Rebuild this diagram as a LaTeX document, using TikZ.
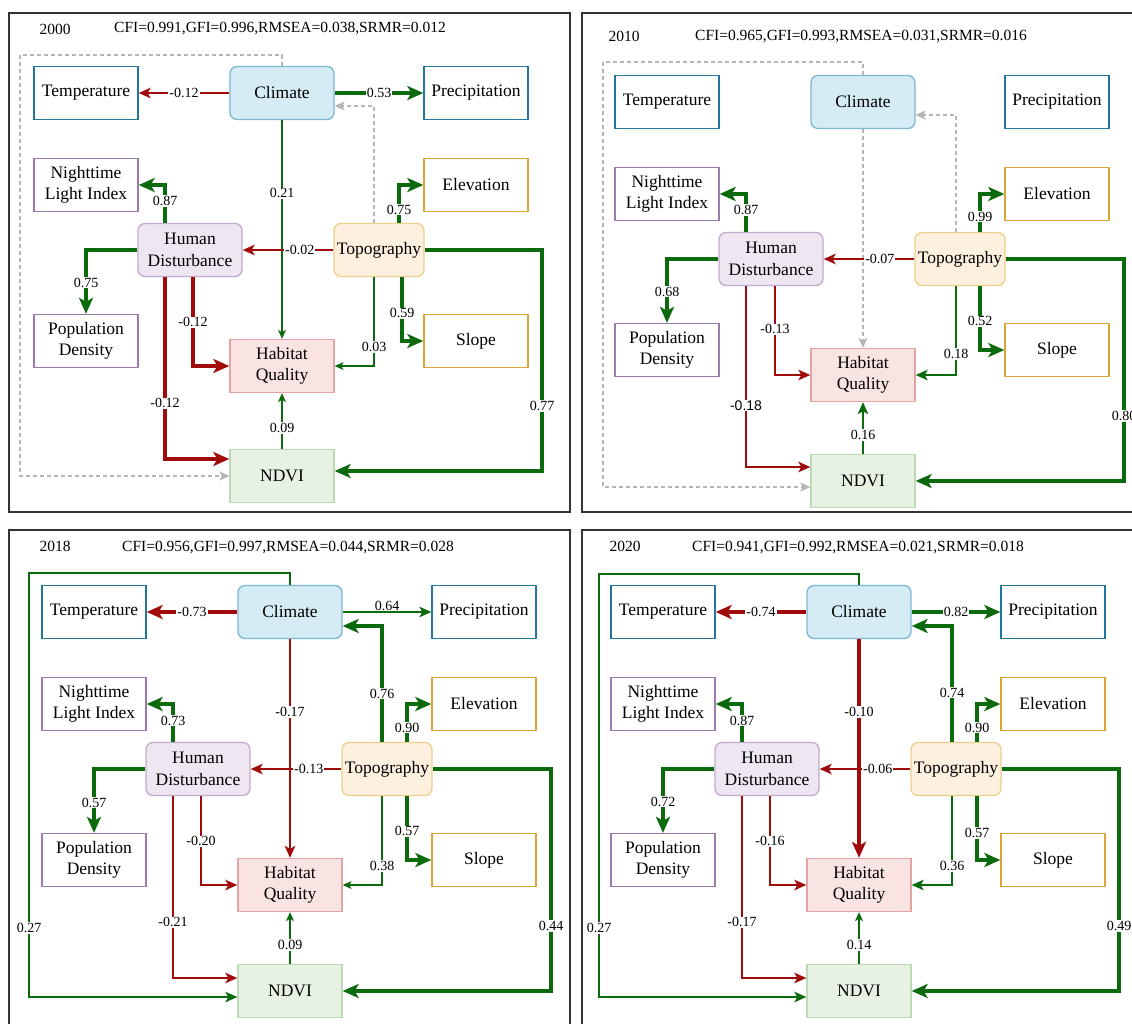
\documentclass[tikz,border=0pt]{standalone}
\usepackage{fontspec}
\setmainfont{Liberation Serif}
\setsansfont{Liberation Sans}
\usetikzlibrary{arrows.meta}

\definecolor{redln}{HTML}{A00C0C}
\definecolor{grnln}{HTML}{0B6A0B}
\definecolor{dashln}{HTML}{B5B5B5}
\definecolor{blueln}{HTML}{23779F}
\definecolor{purpln}{HTML}{9C7AAE}
\definecolor{goldln}{HTML}{DCA537}
\definecolor{climfl}{HTML}{D5ECF5}
\definecolor{climbd}{HTML}{7DB6D0}
\definecolor{humfl}{HTML}{EEE7F1}
\definecolor{humbd}{HTML}{C2AACD}
\definecolor{topofl}{HTML}{FEF0DF}
\definecolor{topobd}{HTML}{EDCF8C}
\definecolor{hqfl}{HTML}{FAE3E3}
\definecolor{hqbd}{HTML}{E6A3A3}
\definecolor{ndvifl}{HTML}{E7F2E5}
\definecolor{ndvibd}{HTML}{BADBB3}
\definecolor{frameln}{HTML}{333333}

\begin{document}
\begin{tikzpicture}[x=1pt, y=-1pt,
  box/.style={draw, fill=white, line width=1.3pt, minimum width=104pt, minimum height=53pt,
    inner sep=1.5pt, align=center, font=\fontsize{17.5}{21.5}\selectfont},
  tbox/.style={box, draw=blueln},
  hbox/.style={box, draw=purpln},
  gbox/.style={box, draw=goldln},
  climv/.style={box, rounded corners=7pt, draw=climbd, fill=climfl},
  humv/.style={box, rounded corners=7pt, draw=humbd, fill=humfl},
  topov/.style={box, rounded corners=7pt, draw=topobd, fill=topofl, minimum width=90pt},
  hqv/.style={box, draw=hqbd, fill=hqfl},
  ndviv/.style={box, draw=ndvibd, fill=ndvifl},
  lbl/.style={fill=white, inner sep=1pt, font=\fontsize{14}{16}\selectfont},
  ttl/.style={font=\fontsize{15.5}{18}\selectfont},
  gthin/.style={draw=grnln, line width=1.3pt, -{Stealth[length=9pt,width=8pt,inset=2.5pt]}},
  gmid/.style={draw=grnln, line width=2.1pt, -{Stealth[length=12pt,width=10.5pt,inset=3pt]}},
  gthick/.style={draw=grnln, line width=3.2pt, -{Stealth[length=16pt,width=14pt,inset=4pt]}},
  rmid/.style={draw=redln, line width=2.1pt, -{Stealth[length=12pt,width=10.5pt,inset=3pt]}},
  rthick/.style={draw=redln, line width=3.2pt, -{Stealth[length=16pt,width=14pt,inset=4pt]}},
  dsh/.style={draw=dashln, line width=1.2pt, dash pattern=on 4pt off 3pt,
    -{Stealth[length=10pt,width=9pt,inset=2.5pt]}},
  frame/.style={draw=frameln, line width=1.4pt}
]
\clip (0,0) rectangle (1132,1023);

% panel frames and titles
\draw[frame] (9,13) rectangle (570,512);
\draw[frame] (582,13) rectangle (1145,512);
\draw[frame] (9,530) rectangle (570,1035);
\draw[frame] (582,530) rectangle (1145,1035);
\node[ttl] (yr1) at (55,29) {2000};
\node[ttl] (fit1) at (280,29) {CFI=0.991,GFI=0.996,RMSEA=0.038,SRMR=0.012};
\node[ttl] (yr2) at (624,36) {2010};
\node[ttl] (fit2) at (861,37) {CFI=0.965,GFI=0.993,RMSEA=0.031,SRMR=0.016};
\node[ttl] (yr3) at (55,546) {2018};
\node[ttl] (fit3) at (288,548) {CFI=0.956,GFI=0.997,RMSEA=0.044,SRMR=0.028};
\node[ttl] (yr4) at (625,546) {2020};
\node[ttl] (fit4) at (858,548) {CFI=0.941,GFI=0.992,RMSEA=0.021,SRMR=0.018};

% 2000
\begin{scope}
\node[tbox] (temp1) at (86,93) {Temperature};
\node[climv] (clim1) at (282,93) {Climate};
\node[tbox] (prec1) at (476,93) {Precipitation};
\node[hbox] (ntl1) at (86,185) {Nighttime\\Light Index};
\node[gbox] (elev1) at (476,185) {Elevation};
\node[humv] (hum1) at (190,250) {Human\\Disturbance};
\node[topov] (topo1) at (379,250) {Topography};
\node[hbox] (pop1) at (86,341) {Population\\Density};
\node[gbox] (slope1) at (476,341) {Slope};
\node[hqv] (hq1) at (282,366) {Habitat\\Quality};
\node[ndviv] (ndvi1) at (282,476) {NDVI};

\draw[dsh] (clim1.north) |- (20,55) |- (ndvi1.west);
\draw[dsh] ([xshift=-5pt]topo1.north) |- ([yshift=-13pt]clim1.east);
\draw[rmid] (clim1.west) -- (temp1.east) node[lbl, midway] {-0.12};
\draw[gthick] (clim1.east) -- (prec1.west) node[lbl, midway] {0.53};
\draw[gthin] (clim1.south) -- (hq1.north) node[lbl, pos=0.335] {0.21};
\draw[gthick] ([xshift=-25pt]hum1.north) |- (ntl1.east) node[lbl, pos=0.29] {0.87};
\draw[gthick] (hum1.west) -| (pop1.north) node[lbl, pos=0.756] {0.75};
\draw[rmid] (topo1.west) -- (hum1.east) node[lbl, pos=0.37] {-0.02};
\draw[gthick] ([xshift=20pt]topo1.north) |- (elev1.west) node[lbl, pos=0.175] {0.75};
\draw[gthick] ([xshift=23pt]topo1.south) |- (slope1.west) node[lbl, pos=0.283] {0.59};
\draw[gthin] ([xshift=-5pt]topo1.south) |- (hq1.east) node[lbl, pos=0.394] {0.03};
\draw[gthick] (topo1.east) -| (542,406) node[lbl] {0.77} |- ([yshift=5pt]ndvi1.east);
\draw[rthick] ([xshift=3pt]hum1.south) |- (hq1.west) node[lbl, pos=0.254] {-0.12};
\draw[rthick] ([xshift=-25pt]hum1.south) |- ([yshift=17pt]ndvi1.west) node[lbl, pos=0.347] {-0.12};
\draw[gthin] (ndvi1.north) -- (hq1.south) node[lbl, pos=0.377] {0.09};
\end{scope}

% 2010
\begin{scope}[shift={(581,9)}]
\node[tbox] (temp2) at (86,93) {Temperature};
\node[climv] (clim2) at (282,93) {Climate};
\node[tbox] (prec2) at (476,93) {Precipitation};
\node[hbox] (ntl2) at (86,185) {Nighttime\\Light Index};
\node[gbox] (elev2) at (476,185) {Elevation};
\node[humv] (hum2) at (190,250) {Human\\Disturbance};
\node[topov] (topo2) at (379,250) {Topography};
\node[hbox] (pop2) at (86,341) {Population\\Density};
\node[gbox] (slope2) at (476,341) {Slope};
\node[hqv] (hq2) at (282,366) {Habitat\\Quality};
\node[ndviv] (ndvi2) at (282,472) {NDVI};

\draw[dsh] (clim2.north) |- (22,53) |- ([yshift=-6pt]ndvi2.west);
\draw[dsh] ([xshift=-4pt]topo2.north) |- ([yshift=-13pt]clim2.east);
\draw[dsh] (clim2.south) -- (hq2.north);
\draw[gthick] ([xshift=-25pt]hum2.north) |- (ntl2.east) node[lbl, pos=0.29] {0.87};
\draw[gthick] (hum2.west) -| (pop2.north) node[lbl, pos=0.756] {0.68};
\draw[rmid] (topo2.west) -- (hum2.east) node[lbl, pos=0.38] {-0.07};
\draw[gthick] ([xshift=20pt]topo2.north) |- (elev2.west) node[lbl, pos=0.2] {0.99};
\draw[gthick] ([xshift=20pt]topo2.south) |- (slope2.west) node[lbl, pos=0.275] {0.52};
\draw[gmid] ([xshift=-4pt]topo2.south) |- (hq2.east) node[lbl, pos=0.383] {0.18};
\draw[gthick] (topo2.east) -| (543,407) node[lbl] {0.80} |- (ndvi2.east);
\draw[rmid] ([xshift=4pt]hum2.south) |- (hq2.west) node[lbl, pos=0.243] {-0.13};
\draw[rmid] ([xshift=-25pt]hum2.south) |- ([yshift=14pt]ndvi2.west)
  node[lbl, pos=0.33, font=\sffamily\fontsize{14}{16}\selectfont] {-0.18};
\draw[gmid] (ndvi2.north) -- (hq2.south) node[lbl, pos=0.368] {0.16};
\end{scope}

% 2018
\begin{scope}[shift={(8,519)}]
\node[tbox] (temp3) at (86,93) {Temperature};
\node[climv] (clim3) at (282,93) {Climate};
\node[tbox] (prec3) at (476,93) {Precipitation};
\node[hbox] (ntl3) at (86,185) {Nighttime\\Light Index};
\node[gbox] (elev3) at (476,185) {Elevation};
\node[humv] (hum3) at (190,250) {Human\\Disturbance};
\node[topov] (topo3) at (379,250) {Topography};
\node[hbox] (pop3) at (86,341) {Population\\Density};
\node[gbox] (slope3) at (476,341) {Slope};
\node[hqv] (hq3) at (282,366) {Habitat\\Quality};
\node[ndviv] (ndvi3) at (282,472) {NDVI};

\draw[rthick] (clim3.west) -- (temp3.east) node[lbl, midway] {-0.73};
\draw[gmid] (clim3.east) -- (prec3.west) node[lbl, midway, fill=none, yshift=6pt] {0.64};
\draw[gthick] ([xshift=-5pt]topo3.north) |- ([yshift=-14pt]clim3.east) node[lbl, pos=0.208] {0.76};
\draw[gmid] (clim3.north) |- (21,54) -- (21,409) node[lbl] {0.27} |- ([yshift=-6pt]ndvi3.west);
\draw[rmid] (clim3.south) -- (hq3.north) node[lbl, pos=0.334] {-0.17};
\draw[gthick] ([xshift=-25pt]hum3.north) |- (ntl3.east) node[lbl, pos=0.28] {0.73};
\draw[gthick] ([xshift=20pt]topo3.north) |- (elev3.west) node[lbl, pos=0.19] {0.90};
\draw[rmid] (topo3.west) -- (hum3.east) node[lbl, pos=0.36] {-0.13};
\draw[gthick] (hum3.west) -| (pop3.north) node[lbl, pos=0.764] {0.57};
\draw[gthick] ([xshift=20pt]topo3.south) |- (slope3.west) node[lbl, pos=0.275] {0.57};
\draw[gthin] ([xshift=-5pt]topo3.south) |- (hq3.east) node[lbl, pos=0.394] {0.38};
\draw[gthick] (topo3.east) -| (543,407) node[lbl] {0.44} |- (ndvi3.east);
\draw[rmid] ([xshift=3pt]hum3.south) |- (hq3.west) node[lbl, pos=0.254] {-0.20};
\draw[rmid] ([xshift=-25pt]hum3.south) |- ([yshift=13pt]ndvi3.west) node[lbl, pos=0.347] {-0.21};
\draw[gthin] (ndvi3.north) -- (hq3.south) node[lbl, pos=0.368] {0.09};
\end{scope}

% 2020
\begin{scope}[shift={(577,519)}]
\node[tbox] (temp4) at (86,93) {Temperature};
\node[climv] (clim4) at (282,93) {Climate};
\node[tbox] (prec4) at (476,93) {Precipitation};
\node[hbox] (ntl4) at (86,185) {Nighttime\\Light Index};
\node[gbox] (elev4) at (476,185) {Elevation};
\node[humv] (hum4) at (190,250) {Human\\Disturbance};
\node[topov] (topo4) at (379,250) {Topography};
\node[hbox] (pop4) at (86,341) {Population\\Density};
\node[gbox] (slope4) at (476,341) {Slope};
\node[hqv] (hq4) at (282,366) {Habitat\\Quality};
\node[ndviv] (ndvi4) at (282,472) {NDVI};

\draw[rthick] (clim4.west) -- (temp4.east) node[lbl, midway] {-0.74};
\draw[gthick] (clim4.east) -- (prec4.west) node[lbl, midway] {0.82};
\draw[gthick] ([xshift=-4pt]topo4.north) |- ([yshift=-14pt]clim4.east) node[lbl, pos=0.212] {0.74};
\draw[gmid] (clim4.north) |- (22,55) -- (22,409) node[lbl] {0.27} |- ([yshift=-6pt]ndvi4.west);
\draw[rthick] (clim4.south) -- (hq4.north) node[lbl, pos=0.334] {-0.10};
\draw[gthick] ([xshift=-25pt]hum4.north) |- (ntl4.east) node[lbl, pos=0.28] {0.87};
\draw[gthick] ([xshift=21pt]topo4.north) |- (elev4.west) node[lbl, pos=0.19] {0.90};
\draw[rmid] (topo4.west) -- (hum4.east) node[lbl, pos=0.36] {-0.06};
\draw[gthick] (hum4.west) -| (pop4.north) node[lbl, pos=0.756] {0.72};
\draw[gthick] ([xshift=21pt]topo4.south) |- (slope4.west) node[lbl, pos=0.29] {0.57};
\draw[gmid] ([xshift=-4pt]topo4.south) |- (hq4.east) node[lbl, pos=0.394] {0.36};
\draw[gthick] (topo4.east) -| (542,407) node[lbl] {0.49} |- (ndvi4.east);
\draw[rmid] ([xshift=3pt]hum4.south) |- (hq4.west) node[lbl, pos=0.254] {-0.16};
\draw[rmid] ([xshift=-25pt]hum4.south) |- ([yshift=13pt]ndvi4.west) node[lbl, pos=0.347] {-0.17};
\draw[gthin] (ndvi4.north) -- (hq4.south) node[lbl, pos=0.368] {0.14};
\end{scope}
\end{tikzpicture}
\end{document}
